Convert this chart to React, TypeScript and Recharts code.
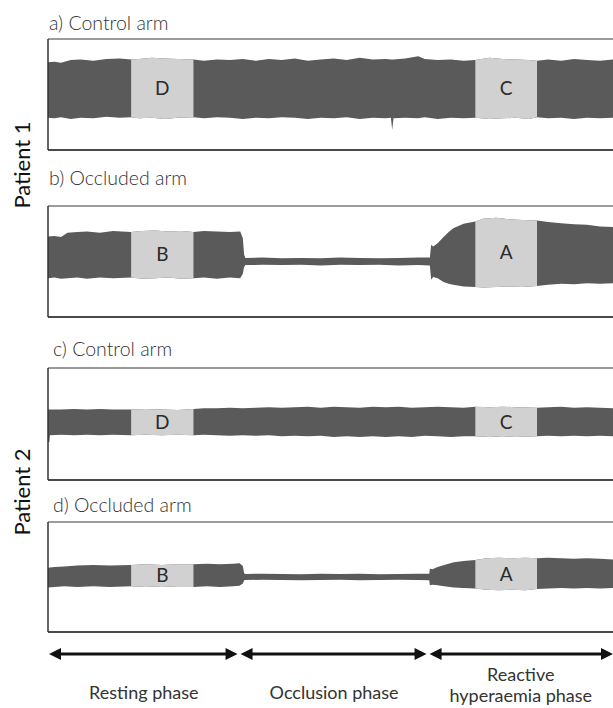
import React from 'react';
import { ComposedChart, Area, Line, XAxis, YAxis, ReferenceLine, ReferenceArea } from 'recharts';

const T_MAX = 870; // seconds

// [time (s), lower, upper] of the signal envelope, normalised to the panel (-1..1)
const envelopeA = [
  [0, -0.42, 0.58], [10, -0.43, 0.59], [20, -0.41, 0.57], [35, -0.44, 0.62], [50, -0.42, 0.63],
  [70, -0.43, 0.61], [90, -0.4, 0.64], [110, -0.42, 0.65], [128, -0.41, 0.63], [140, -0.43, 0.64],
  [160, -0.42, 0.66], [180, -0.44, 0.65], [200, -0.42, 0.64], [224, -0.41, 0.63], [240, -0.43, 0.61],
  [260, -0.41, 0.63], [280, -0.42, 0.62], [300, -0.44, 0.64], [320, -0.42, 0.61], [340, -0.43, 0.64],
  [360, -0.41, 0.62], [380, -0.42, 0.65], [400, -0.44, 0.61], [420, -0.42, 0.63], [440, -0.43, 0.65],
  [460, -0.41, 0.62], [480, -0.44, 0.66], [500, -0.42, 0.63], [520, -0.43, 0.64], [528, -0.42, 0.63],
  [530, -0.64, 0.63], [532, -0.43, 0.63], [550, -0.42, 0.65], [570, -0.43, 0.69], [580, -0.41, 0.64],
  [600, -0.44, 0.62], [620, -0.42, 0.63], [640, -0.43, 0.61], [658, -0.42, 0.62], [680, -0.44, 0.66],
  [700, -0.43, 0.64], [720, -0.42, 0.63], [740, -0.44, 0.62], [753, -0.41, 0.61], [770, -0.43, 0.63],
  [790, -0.42, 0.61], [810, -0.44, 0.64], [830, -0.42, 0.62], [850, -0.43, 0.61], [870, -0.42, 0.63],
];

const envelopeB = [
  [0, -0.3, 0.45], [10, -0.29, 0.46], [20, -0.31, 0.44], [30, -0.3, 0.52], [45, -0.29, 0.53],
  [60, -0.31, 0.54], [80, -0.29, 0.52], [100, -0.3, 0.55], [128, -0.29, 0.53], [145, -0.31, 0.55],
  [165, -0.3, 0.56], [185, -0.29, 0.54], [205, -0.31, 0.55], [224, -0.3, 0.53], [240, -0.29, 0.55],
  [260, -0.31, 0.54], [280, -0.29, 0.53], [296, -0.3, 0.54], [300, -0.22, 0.42], [302, -0.1, 0.12],
  [304, -0.065, 0.065], [330, -0.06, 0.07], [360, -0.065, 0.06], [390, -0.06, 0.065], [420, -0.07, 0.06],
  [450, -0.06, 0.07], [480, -0.065, 0.065], [510, -0.06, 0.06], [540, -0.07, 0.065], [570, -0.065, 0.07],
  [588, -0.07, 0.07], [590, -0.33, 0.3], [593, -0.28, 0.27], [600, -0.3, 0.33], [609, -0.37, 0.44],
  [617, -0.4, 0.53], [624, -0.42, 0.6], [640, -0.45, 0.68], [658, -0.46, 0.72], [670, -0.47, 0.77],
  [690, -0.46, 0.79], [710, -0.45, 0.76], [730, -0.46, 0.75], [753, -0.44, 0.74], [770, -0.42, 0.71],
  [790, -0.4, 0.69], [810, -0.41, 0.67], [830, -0.39, 0.66], [850, -0.4, 0.63], [870, -0.39, 0.62],
];

const envelopeC = [
  [0, -0.32, 0.26], [2, -0.32, 0.26], [3, -0.2, 0.26], [20, -0.19, 0.26], [40, -0.2, 0.27],
  [60, -0.19, 0.26], [80, -0.2, 0.27], [100, -0.19, 0.26], [128, -0.2, 0.26], [150, -0.19, 0.27],
  [175, -0.2, 0.26], [200, -0.19, 0.25], [224, -0.2, 0.27], [240, -0.19, 0.28], [260, -0.2, 0.28],
  [280, -0.21, 0.29], [300, -0.2, 0.28], [320, -0.21, 0.29], [340, -0.2, 0.3], [360, -0.22, 0.29],
  [380, -0.21, 0.3], [400, -0.22, 0.31], [420, -0.21, 0.29], [440, -0.23, 0.31], [460, -0.22, 0.3],
  [480, -0.23, 0.29], [500, -0.22, 0.31], [520, -0.23, 0.3], [540, -0.22, 0.31], [560, -0.23, 0.29],
  [580, -0.21, 0.3], [600, -0.22, 0.31], [620, -0.23, 0.3], [640, -0.22, 0.29], [658, -0.22, 0.31],
  [680, -0.23, 0.3], [700, -0.22, 0.31], [720, -0.23, 0.3], [753, -0.22, 0.29], [770, -0.21, 0.3],
  [790, -0.22, 0.31], [810, -0.21, 0.29], [830, -0.22, 0.3], [850, -0.21, 0.29], [870, -0.22, 0.28],
];

const envelopeD = [
  [0, -0.19, 0.17], [10, -0.18, 0.18], [25, -0.17, 0.19], [45, -0.18, 0.21], [70, -0.17, 0.22],
  [95, -0.18, 0.21], [128, -0.17, 0.22], [150, -0.18, 0.23], [175, -0.17, 0.22], [200, -0.18, 0.23],
  [224, -0.18, 0.23], [245, -0.17, 0.24], [265, -0.18, 0.23], [285, -0.17, 0.24], [295, -0.16, 0.25],
  [300, -0.12, 0.2], [302, -0.06, 0.07], [304, -0.055, 0.055], [330, -0.05, 0.06], [360, -0.055, 0.055],
  [390, -0.06, 0.05], [420, -0.055, 0.06], [450, -0.05, 0.055], [480, -0.06, 0.06], [510, -0.055, 0.05],
  [540, -0.05, 0.055], [570, -0.055, 0.06], [587, -0.06, 0.06], [588, -0.15, 0.15], [592, -0.14, 0.14],
  [600, -0.15, 0.18], [610, -0.17, 0.22], [625, -0.19, 0.27], [640, -0.2, 0.29], [658, -0.21, 0.31],
  [675, -0.23, 0.34], [695, -0.24, 0.35], [715, -0.23, 0.34], [735, -0.24, 0.35], [753, -0.22, 0.34],
  [770, -0.21, 0.35], [790, -0.2, 0.34], [810, -0.21, 0.33], [830, -0.2, 0.34], [850, -0.21, 0.33],
  [870, -0.2, 0.32],
];

// highlighted analysis windows
const controlSegments = [
  { label: 'D', start: 128, end: 224 },
  { label: 'C', start: 658, end: 753 },
];
const occludedSegments = [
  { label: 'B', start: 128, end: 224 },
  { label: 'A', start: 658, end: 753 },
];

const phases = [
  { lines: ['Resting phase'], start: 0, end: 295 },
  { lines: ['Occlusion phase'], start: 295, end: 586 },
  { lines: ['Reactive', 'hyperaemia phase'], start: 586, end: 870 },
];

const panels = [
  { title: 'a) Control arm', env: envelopeA, segs: controlSegments, top: 39, h: 111, tx: 49, ty: 30 },
  { title: 'b) Occluded arm', env: envelopeB, segs: occludedSegments, top: 206, h: 111, tx: 49, ty: 185 },
  { title: 'c) Control arm', env: envelopeC, segs: controlSegments, top: 368, h: 112, tx: 53, ty: 356 },
  { title: 'd) Occluded arm', env: envelopeD, segs: occludedSegments, top: 522, h: 110, tx: 53, ty: 512 },
];

const patients = [
  { name: 'Patient 1', y: 165 },
  { name: 'Patient 2', y: 492 },
];

const FONT = 'Lato, "Open Sans", sans-serif';
const DARK = '#5a5a5a';
const LIGHT = '#d1d1d1';
const LEFT = 48;

type Seg = { label: string; start: number; end: number };

function buildRows(env: number[][], segs: Seg[]) {
  return env.map(([t, lo, hi]) => ({
    t,
    band: [lo, hi],
    seg: segs.some((s) => t >= s.start && t <= s.end) ? [lo, hi] : null,
  }));
}

function segMid(env: number[][], s: Seg) {
  const inside = env.filter(([t]) => t >= s.start && t <= s.end);
  const lo = Math.min(...inside.map((r) => r[1]));
  const hi = Math.max(...inside.map((r) => r[2]));
  return (lo + hi) / 2;
}

const Panel = ({ env, segs, top, h }: any) => {
  const rows = buildRows(env, segs);
  return (
    <div style={{ position: 'absolute', left: 0, top: top - 2 }}>
      <ComposedChart width={613} height={h + 4} data={rows} margin={{ top: 2, right: 0, bottom: 2, left: LEFT }}>
        <XAxis type="number" dataKey="t" domain={[0, T_MAX]} hide />
        <YAxis type="number" domain={[-1, 1]} hide />
        <Area
          type="linear"
          dataKey="band"
          stroke="none"
          fill={DARK}
          fillOpacity={1}
          dot={false}
          activeDot={false}
          isAnimationActive={false}
        />
        <Area
          type="linear"
          dataKey="seg"
          stroke="none"
          fill={LIGHT}
          fillOpacity={1}
          dot={false}
          activeDot={false}
          connectNulls={false}
          isAnimationActive={false}
        />
        {segs.map((s: Seg) => {
          const m = segMid(env, s);
          return (
            <ReferenceArea
              key={s.label}
              x1={s.start}
              x2={s.end}
              y1={m - 0.05}
              y2={m + 0.05}
              fillOpacity={0}
              strokeOpacity={0}
              ifOverflow="visible"
              label={{ value: s.label, position: 'center', fill: '#2a2a2a', fontSize: 19, fontFamily: FONT, fontWeight: 400 }}
            />
          );
        })}
        <ReferenceLine y={1} stroke="#7a7a7a" strokeWidth={1.5} ifOverflow="visible" />
        <ReferenceLine y={-1} stroke="#4a4a4a" strokeWidth={2} ifOverflow="visible" />
        <ReferenceLine x={0} stroke="#333" strokeWidth={1.5} ifOverflow="visible" />
      </ComposedChart>
    </div>
  );
};

const PhaseArrow = (props: any) => {
  const { x1, x2, y1, lines } = props;
  const l = x1 + 1;
  const r = x2 >= 612 ? x2 : x2 - 2;
  const head = 12;
  const cx = (x1 + x2) / 2;
  return (
    <g>
      <line x1={l + head - 1} y1={y1} x2={r - head + 1} y2={y1} stroke="#111" strokeWidth={3} />
      <polygon points={`${l},${y1} ${l + head},${y1 - 6} ${l + head},${y1 + 6}`} fill="#111" />
      <polygon points={`${r},${y1} ${r - head},${y1 - 6} ${r - head},${y1 + 6}`} fill="#111" />
      <text textAnchor="middle" fill="#333" fontSize={18} fontFamily={FONT} fontWeight={400}>
        {lines.length === 1 ? (
          <tspan x={cx} y={y1 + 45}>{lines[0]}</tspan>
        ) : (
          lines.map((s: string, i: number) => (
            <tspan key={s} x={cx} y={y1 + 27 + i * 21}>{s}</tspan>
          ))
        )}
      </text>
    </g>
  );
};

export default function App() {
  const phaseRows = phases.flatMap((p) => [{ t: p.start, y: 1 }, { t: p.end, y: 1 }]);
  return (
    <div style={{ position: 'absolute', left: 0, top: 0, width: 613, height: 708, background: '#fff', overflow: 'hidden', fontFamily: FONT }}>
      <svg width={613} height={708} style={{ position: 'absolute', left: 0, top: 0 }}>
        {panels.map((p) => (
          <text key={p.title} x={p.tx} y={p.ty} fill="#333" fontSize={19.5} fontFamily={FONT} fontWeight={300}>
            {p.title}
          </text>
        ))}
        {patients.map((p) => (
          <text
            key={p.name}
            transform={`translate(21,${p.y}) rotate(-90)`}
            textAnchor="middle"
            dominantBaseline="central"
            fill="#111"
            fontSize={22}
            fontFamily={FONT}
          >
            {p.name}
          </text>
        ))}
      </svg>
      {panels.map((p) => (
        <Panel key={p.title} {...p} />
      ))}
      <div style={{ position: 'absolute', left: 0, top: 640 }}>
        <ComposedChart width={613} height={68} data={phaseRows} margin={{ top: 14, right: 0, bottom: 0, left: LEFT }}>
          <XAxis type="number" dataKey="t" domain={[0, T_MAX]} hide />
          <YAxis type="number" domain={[0, 1]} hide />
          <Line dataKey="y" stroke="none" dot={false} activeDot={false} isAnimationActive={false} />
          {phases.map((ph) => (
            <ReferenceLine
              key={ph.lines[0]}
              segment={[{ x: ph.start, y: 1 }, { x: ph.end, y: 1 }]}
              ifOverflow="visible"
              shape={(sp: any) => <PhaseArrow {...sp} lines={ph.lines} />}
            />
          ))}
        </ComposedChart>
      </div>
    </div>
  );
}
